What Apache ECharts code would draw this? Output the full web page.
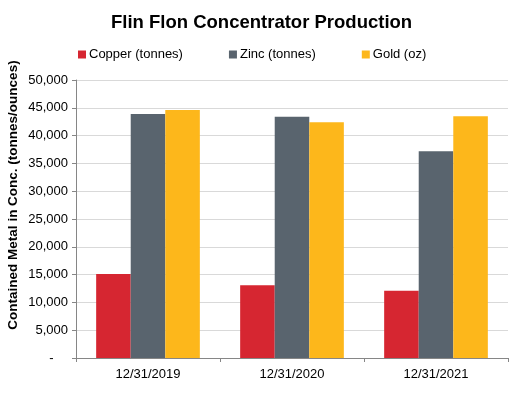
<!DOCTYPE html>
<html>
<head>
<meta charset="utf-8">
<script src="https://cdn.jsdelivr.net/npm/echarts@6/dist/echarts.min.js"></script>
<style>
  html, body { margin: 0; padding: 0; background: #fff; }
  #chart { width: 531px; height: 396px; }
</style>
</head>
<body>
<div id="chart"></div>
<script>
const categories = ['12/31/2019', '12/31/2020', '12/31/2021'];
const copper = [15100, 13100, 12100];
const zinc = [43900, 43400, 37200];
const gold = [44600, 42400, 43500];
const yAxisTitle = 'Contained Metal in Conc. (tonnes/ounces)';

const chart = echarts.init(document.getElementById('chart'));
const font = 'Liberation Sans, Arial, sans-serif';

chart.setOption({
  animation: false,
  textStyle: { fontFamily: font },
  title: {
    text: 'Flin Flon Concentrator Production',
    left: 106,
    top: 8,
    textStyle: { fontSize: 18.5, fontWeight: 'bold', color: '#000', fontFamily: font }
  },
  legend: {
    left: 73,
    top: 43,
    itemWidth: 8,
    itemHeight: 8,
    itemGap: 46,
    icon: 'rect',
    textStyle: { fontSize: 13, color: '#000', fontFamily: font, padding: [0, 0, 0, -2] },
    data: ['Copper (tonnes)', 'Zinc (tonnes)', 'Gold (oz)']
  },
  // y-axis title drawn as rotated text, sits a bit above the plot middle
  graphic: [{
    type: 'text',
    x: 13,
    y: 195,
    rotation: Math.PI / 2,
    style: {
      text: yAxisTitle,
      fontSize: 13.5,
      fontWeight: 'bold',
      fontFamily: font,
      fill: '#000',
      align: 'center',
      verticalAlign: 'middle'
    }
  }],
  grid: { left: 76, right: 23, top: 80, bottom: 38 },
  xAxis: {
    type: 'category',
    data: categories,
    axisLine: { lineStyle: { color: '#868686' } },
    axisTick: { show: true, length: 4, alignWithLabel: false, lineStyle: { color: '#868686' } },
    axisLabel: { fontSize: 13, color: '#000', margin: 10 }
  },
  yAxis: {
    type: 'value',
    min: 0,
    max: 50000,
    interval: 5000,
    axisLine: { show: true, lineStyle: { color: '#868686' } },
    axisTick: { show: true, length: 4, lineStyle: { color: '#868686' } },
    axisLabel: {
      fontSize: 13, color: '#000', margin: 8,
      formatter: v => v === 0 ? '-    ' : v.toLocaleString('en-US')
    },
    splitLine: { lineStyle: { color: '#d9d9d9' } }
  },
  series: [
    { name: 'Copper (tonnes)', type: 'bar', data: copper, itemStyle: { color: '#D62631' }, barGap: '0%', barCategoryGap: '28%' },
    { name: 'Zinc (tonnes)', type: 'bar', data: zinc, itemStyle: { color: '#59646E' } },
    { name: 'Gold (oz)', type: 'bar', data: gold, itemStyle: { color: '#FDB71B' } }
  ]
});
</script>
</body>
</html>
